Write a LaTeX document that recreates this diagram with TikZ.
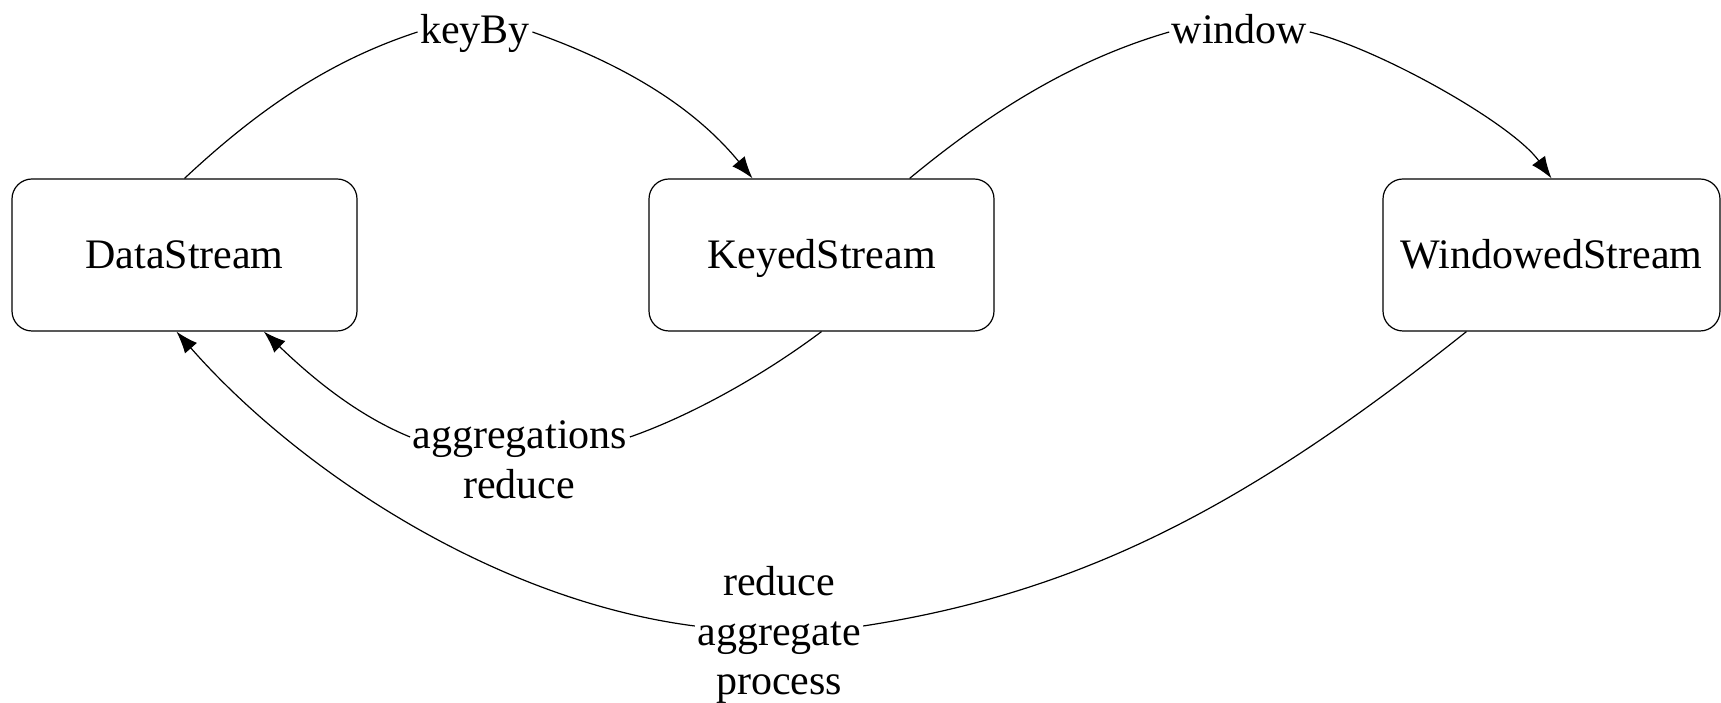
\documentclass[tikz,border=0pt]{standalone}
\usepackage{fontspec}
\setmainfont{Liberation Serif}
\usepackage{tikz}
\usetikzlibrary{arrows.meta}

\begin{document}
\begin{tikzpicture}[>={Latex[length=11bp,width=8bp]},line join=bevel,line width=0.6bp,
  font=\fontsize{21.08}{25.1}\selectfont,
  stream/.style={draw,rounded corners=10bp,minimum width=172.5bp,minimum height=76bp,inner sep=0pt,text height=13.5bp,text depth=0bp},
  elabel/.style={inner sep=1bp,text height=11.5bp,text depth=0bp}]
\useasboundingbox (0bp,0bp) rectangle (860.5bp,351.5bp);
%%
\node (node_0) at (92.25bp,224bp) [stream] {DataStream};
  \node (node_1) at (410.75bp,224bp) [stream] {KeyedStream};
  \node (node_2) at (775.75bp,224bp) [stream,minimum width=168.5bp] {WindowedStream};
  \node (label_0) at (237.5bp,335.5bp) [elabel] {keyBy};
  \node (label_1) at (619.75bp,335.5bp) [elabel] {window};
  \node (label_2) at (260bp,133bp) [elabel] {aggregations};
  \node (label_3) at (259.5bp,108bp) [elabel] {reduce};
  \node (label_4) at (389.5bp,59.5bp) [elabel] {reduce};
  \node (label_5) at (389.5bp,34.5bp) [elabel] {aggregate};
  \node (label_6) at (389.5bp,10.2bp) [elabel] {process};
  \draw [black,->] (node_0.north) ..controls (132bp,299.5bp) and (167.5bp,322bp) .. (label_0.west)
    (label_0.east) ..controls (311bp,319.7bp) and (346.5bp,298.6bp) .. (node_1.132);
  \draw [black,->] (node_1.41) ..controls (499bp,298.9bp) and (540.5bp,322.7bp) .. (label_1.west)
    (label_1.east) ..controls (689bp,327.35bp) and (755.75bp,290bp) .. (node_2.north);
  \draw [black,->] (node_1.south) ..controls (380.75bp,163.2bp) and (344.85bp,143.45bp) .. (label_2.east)
    (label_2.west) ..controls (175.15bp,145.25bp) and (151.5bp,167bp) .. (node_0.316);
  \draw [black,->] (node_2.222) ..controls (624bp,98.7bp) and (541.45bp,55.4bp) .. ([yshift=4bp]label_5.east)
    ([yshift=4bp]label_5.west) ..controls (246.5bp,51.5bp) and (148.5bp,117bp) .. (node_0.264);
%
\end{tikzpicture}
\end{document}
